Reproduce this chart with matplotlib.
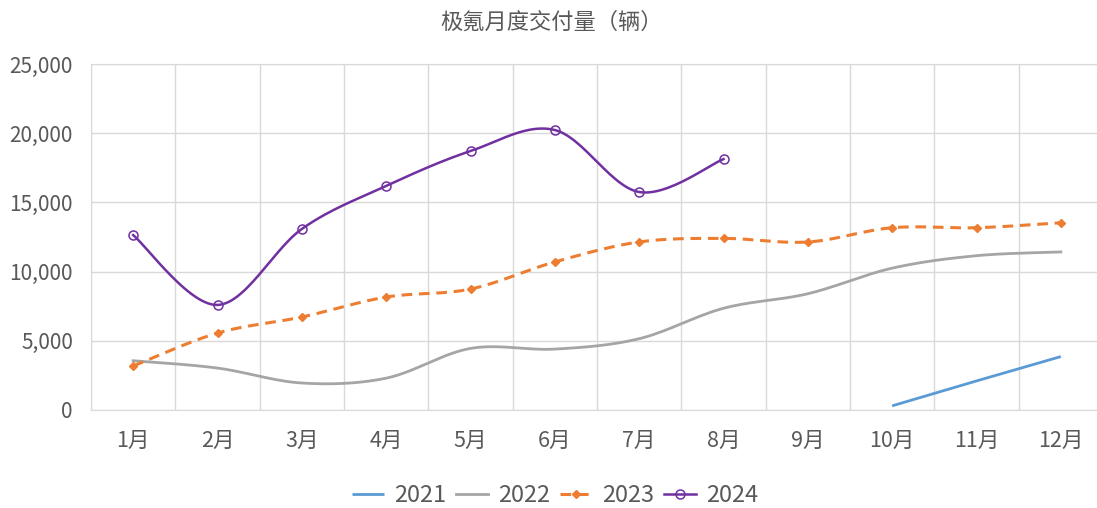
import matplotlib.pyplot as plt
from matplotlib.ticker import FuncFormatter, MultipleLocator
import numpy as np

plt.rcParams['font.family'] = ['Noto Sans CJK SC', 'DejaVu Sans']

# Monthly deliveries
months = ["1月", "2月", "3月", "4月", "5月", "6月", "7月", "8月", "9月", "10月", "11月", "12月"]
y2021 = [None, None, None, None, None, None, None, None, None, 300, 2100, 3860]
y2022 = [3560, 3030, 1950, 2300, 4450, 4400, 5150, 7350, 8400, 10250, 11150, 11420]
y2023 = [3180, 5560, 6720, 8160, 8740, 10700, 12140, 12400, 12140, 13170, 13170, 13530]
y2024 = [12640, 7590, 13080, 16190, 18710, 20230, 15750, 18130]

colors = {"2021": "#5B9BD5", "2022": "#A5A5A5", "2023": "#ED7D31", "2024": "#7030A0"}


# Excel style smoothed line (Catmull-Rom through the points)
def smooth(xs, ys, n=30):
    xs = np.asarray(xs, float)
    ys = np.asarray(ys, float)
    if len(xs) < 3:
        return xs, ys
    px = np.concatenate([[xs[0]], xs, [xs[-1]]])
    py = np.concatenate([[ys[0]], ys, [ys[-1]]])
    out_x, out_y = [], []
    t = np.linspace(0, 1, n)
    for i in range(1, len(px) - 2):
        p0, p1, p2, p3 = [np.array([px[j], py[j]]) for j in (i - 1, i, i + 1, i + 2)]
        c1 = p1 + (p2 - p0) / 6
        c2 = p2 - (p3 - p1) / 6
        b = ((1 - t) ** 3)[:, None] * p1 + (3 * (1 - t) ** 2 * t)[:, None] * c1 \
            + (3 * (1 - t) * t ** 2)[:, None] * c2 + (t ** 3)[:, None] * p2
        out_x.extend(b[:, 0])
        out_y.extend(b[:, 1])
    return np.array(out_x), np.array(out_y)


def series(values):
    xs = [i + 1 for i, v in enumerate(values) if v is not None]
    ys = [v for v in values if v is not None]
    return xs, ys


fig = plt.figure(figsize=(10.97, 5.08), dpi=100)
ax = fig.add_axes([91 / 1097, 98 / 508, (1103 - 91) / 1097, (410 - 64) / 508])

# 2021 - straight line
xs, ys = series(y2021)
ax.plot(xs, ys, color=colors["2021"], lw=2, label="2021", solid_capstyle='butt')

# 2022 - smoothed, no markers
xs, ys = series(y2022)
sx, sy = smooth(xs, ys)
ax.plot(sx, sy, color=colors["2022"], lw=2, label="2022")

# 2023 - smoothed dashed with diamond markers
xs, ys = series(y2023)
sx, sy = smooth(xs, ys)
ax.plot(sx, sy, color=colors["2023"], lw=2.2, ls=(0, (3.5, 2.2)))
ax.plot(xs, ys, ls='none', marker='D', ms=4.5, color=colors["2023"])
ax.plot([], [], color=colors["2023"], lw=2.2, ls=(0, (3.5, 2.2)), marker='D', ms=4.5, label="2023")

# 2024 - smoothed with open circle markers
xs, ys = series(y2024)
sx, sy = smooth(xs, ys)
ax.plot(sx, sy, color=colors["2024"], lw=1.8)
ax.plot(xs, ys, ls='none', marker='o', ms=6.5, mfc='none', mec=colors["2024"], mew=1.1)
ax.plot([], [], color=colors["2024"], lw=1.8, marker='o', ms=6.5, mfc='none', mew=1.1, label="2024")

ax.set_xlim(0.5, 12.5)
ax.set_ylim(0, 25000)
ax.set_xticks(range(1, 13))
ax.set_xticklabels(months)
ax.set_xticks(np.arange(0.5, 13, 1), minor=True)
ax.yaxis.set_major_locator(MultipleLocator(5000))
ax.yaxis.set_major_formatter(FuncFormatter(lambda v, p: f"{int(v):,}"))

ax.grid(True, which='major', axis='y', color='#D9D9D9', lw=1)
ax.grid(True, which='minor', axis='x', color='#D9D9D9', lw=1)
ax.set_axisbelow(True)
for s in ax.spines.values():
    s.set_color('#D9D9D9')
ax.spines['right'].set_visible(False)
ax.tick_params(which='both', length=0)
ax.tick_params(axis='x', pad=14, labelsize=15.5, labelcolor='#595959')
ax.tick_params(axis='y', pad=13, labelsize=15, labelcolor='#595959')

fig.text(552 / 1097, 1 - 22 / 508, "极氪月度交付量（辆）", ha='center', va='center',
         fontsize=16, color='#595959')

leg = fig.legend(loc='center', bbox_to_anchor=(555 / 1097, 1 - 496 / 508), ncol=4,
                 frameon=False, fontsize=17, handlelength=1.35, columnspacing=0.4,
                 handletextpad=0.45)
for t in leg.get_texts():
    t.set_color('#595959')

fig.savefig("out.png", dpi=100)
